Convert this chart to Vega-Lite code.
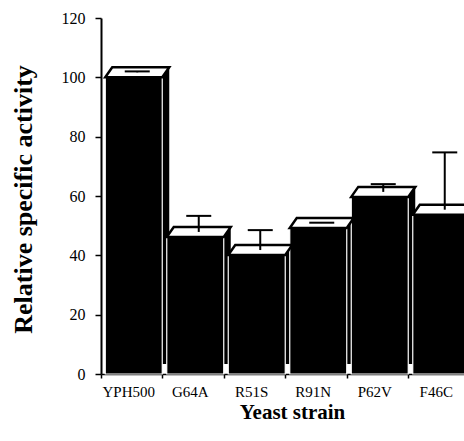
{
  "$schema": "https://vega.github.io/schema/vega-lite/v6.json",
  "autosize": {"type": "none"},
  "width": 363,
  "height": 356,
  "padding": {"left": 101, "top": 18, "right": 0, "bottom": 67},
  "background": "white",
  "config": {"view": {"stroke": null}},
  "data": {"values": [
    {"strain": "YPH500", "value": 100, "upper": 102},
    {"strain": "G64A", "value": 46.2, "upper": 53.3},
    {"strain": "R51S", "value": 40.1, "upper": 48.5},
    {"strain": "R91N", "value": 49.2, "upper": 51},
    {"strain": "P62V", "value": 59.7, "upper": 64},
    {"strain": "F46C", "value": 53.7, "upper": 74.7}
  ]},
  "encoding": {
    "x": {
      "field": "strain", "type": "nominal", "sort": null,
      "scale": {"type": "band", "range": [0, 369], "paddingInner": 0, "paddingOuter": 0},
      "axis": {
        "title": "Yeast strain",
        "titleFont": "Liberation Serif", "titleFontSize": 21, "titleFontWeight": "bold", "titleColor": "black",
        "titleX": 191, "titleY": 44, "titleBaseline": "alphabetic", "titleAlign": "center",
        "labelFont": "Liberation Serif", "labelFontSize": 15, "labelColor": "black", "labelAngle": 0,
        "labelPadding": 6, "labelOffset": -3,
        "bandPosition": 0,
        "tickSize": 4, "tickColor": "black", "tickWidth": 1.5,
        "domainColor": "black", "domainWidth": 1.5
      }
    }
  },
  "layer": [
    {
      "mark": {"type": "bar", "width": 57, "xOffset": 9, "yOffset": -10, "y2Offset": -10, "fill": "black"},
      "encoding": {
        "y": {"field": "value", "type": "quantitative", "scale": {"domain": [0, 120], "nice": false},
          "axis": {
            "title": "Relative specific activity",
            "titleFont": "Liberation Serif", "titleFontSize": 26, "titleFontWeight": "bold", "titleColor": "black",
            "titleAngle": -90, "titleX": -78, "titleY": 181, "titleBaseline": "middle", "titleAlign": "center",
            "values": [0, 10, 20, 30, 40, 50, 60, 70, 80, 90, 100, 110, 120],
            "labelExpr": "datum.value % 20 === 0 ? datum.label : ''",
            "labelFont": "Liberation Serif", "labelFontSize": 16, "labelColor": "black", "labelPadding": 10,
            "tickSize": {"condition": {"test": "datum.value % 20 === 0", "value": 6}, "value": 3},
            "tickColor": "black", "tickWidth": 1.5,
            "domainColor": "black", "domainWidth": 2, "grid": false
          }
        },
        "y2": {"datum": 0}
      }
    },
    {
      "mark": {"type": "bar", "width": 57, "xOffset": 2, "fill": "black", "stroke": "white", "strokeWidth": 1.2},
      "encoding": {
        "y": {"field": "value", "type": "quantitative"},
        "y2": {"datum": 0}
      }
    },
    {
      "mark": {"type": "point", "shape": "M-1,0.156L0.781,0.156L1,-0.156L-0.781,-0.156Z", "size": 4096, "xOffset": 5.5, "yOffset": -5, "filled": true, "fill": "white", "stroke": "black", "strokeWidth": 2.5, "opacity": 1, "strokeOpacity": 1, "fillOpacity": 1},
      "encoding": {
        "y": {"field": "value", "type": "quantitative"}
      }
    },
    {
      "mark": {"type": "rule", "xOffset": 5.5, "yOffset": -5, "strokeWidth": 2, "color": "black"},
      "encoding": {
        "y": {"field": "value", "type": "quantitative"},
        "y2": {"field": "upper"}
      }
    },
    {
      "mark": {"type": "tick", "xOffset": 5.5, "size": 25, "thickness": 2, "color": "black", "opacity": 1},
      "encoding": {
        "y": {"field": "upper", "type": "quantitative"}
      }
    }
  ]
}
